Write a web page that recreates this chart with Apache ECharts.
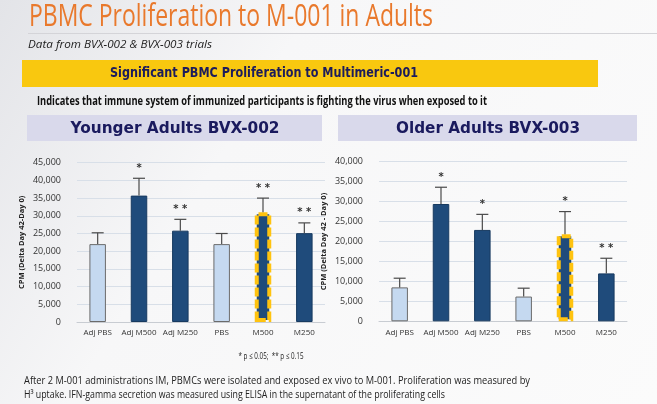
<!DOCTYPE html>
<html>
<head>
<meta charset="utf-8">
<script src="https://cdn.jsdelivr.net/npm/echarts@6/dist/echarts.min.js"></script>
<style>
html,body{margin:0;padding:0;background:#fafafa;}
#chart{width:657px;height:404px;}
</style>
</head>
<body>
<div id="chart"></div>
<script>
// ---- data ----
var categories = ['Adj PBS', 'Adj M500', 'Adj M250', 'PBS', 'M500', 'M250'];
var youngMeans = [22000, 35700, 25800, 22000, 31000, 25100];
var youngErrors = [3200, 4900, 3200, 3000, 4000, 2900];
var youngStars = ['', '*', '**', '', '**', '**'];
var oldMeans = [8500, 29400, 22900, 6200, 21800, 12000];
var oldErrors = [2300, 4200, 3900, 2100, 5700, 3800];
var oldStars = ['', '*', '*', '', '*', '**'];
var youngTicks = [0, 5000, 10000, 15000, 20000, 25000, 30000, 35000, 40000, 45000];
var oldTicks = [0, 5000, 10000, 15000, 20000, 25000, 30000, 35000, 40000];

// ---- helpers ----
var mctx = document.createElement('canvas').getContext('2d');
function fitScale(text, font, width) {
  mctx.font = font;
  var w = mctx.measureText(text).width;
  return w > 0 ? width / w : 1;
}
function txt(text, x, y, opt) {
  var font = (opt.style || 'normal') + ' ' + (opt.weight || 'normal') + ' ' + opt.size + 'px ' + opt.family;
  var sx = opt.width ? fitScale(text, font, opt.width) : 1;
  return {
    type: 'text', x: x, y: y, scaleX: sx, z: 10,
    style: {
      text: text, fill: opt.color, font: font,
      textAlign: opt.align || 'left', textVerticalAlign: 'middle'
    }
  };
}

var NAVY_BAR = '#1F4B7B';
var LIGHT_BAR = '#C5D9F0';
var HILITE = '#FFC30F';

function barData(means) {
  return means.map(function (v, i) {
    var name = categories[i];
    var isLight = name.indexOf('PBS') >= 0;
    var item = {
      value: v,
      itemStyle: {
        color: isLight ? LIGHT_BAR : NAVY_BAR,
        borderColor: isLight ? '#6b6b6b' : '#173a60',
        borderWidth: 1
      }
    };
    if (name === 'M500') {
      item.itemStyle.borderColor = HILITE;
      item.itemStyle.borderWidth = 4;
      item.itemStyle.borderType = [9, 3];
    }
    return item;
  });
}
function errData(means, errs, stars) {
  return means.map(function (v, i) { return [i, v, errs[i], stars[i]]; });
}
function renderErr(params, api) {
  var i = api.value(0), v = api.value(1), e = api.value(2);
  var star = errSets[params.seriesIndex][params.dataIndex][3];
  var p0 = api.coord([i, v]);
  var p1 = api.coord([i, v + e]);
  var children = [
    { type: 'line', shape: { x1: p0[0], y1: p0[1], x2: p1[0], y2: p1[1] }, style: { stroke: '#4a4a4a', lineWidth: 1.2 } },
    { type: 'line', shape: { x1: p1[0] - 6, y1: p1[1], x2: p1[0] + 6, y2: p1[1] }, style: { stroke: '#4a4a4a', lineWidth: 1.2 } }
  ];
  if (star) {
    children.push({ type: 'text', x: p1[0], y: p1[1] - 10,
      style: { text: star.split('').join(' '), fill: '#333', font: 'bold 10px "DejaVu Sans"', textAlign: 'center', textVerticalAlign: 'middle' } });
  }
  return { type: 'group', children: children };
}
var errSets = {};
errSets[2] = errData(youngMeans, youngErrors, youngStars);
errSets[3] = errData(oldMeans, oldErrors, oldStars);

function yAxis(gi, ticks, name) {
  return {
    type: 'value', gridIndex: gi, min: ticks[0], max: ticks[ticks.length - 1], interval: ticks[1] - ticks[0],
    name: name, nameLocation: 'middle', nameGap: 51, nameRotate: 90,
    nameTextStyle: { fontFamily: '"Open Sans"', fontWeight: 'bold', fontSize: 7.5, color: '#222' },
    axisLine: { show: false }, axisTick: { show: false },
    axisLabel: { margin: 16, fontFamily: '"Open Sans"', fontSize: 9, color: '#333',
      formatter: function (v) { return v.toLocaleString('en-US'); } },
    splitLine: { lineStyle: { color: '#d8dfe8', width: 1 } }
  };
}
function xAxis(gi) {
  return {
    type: 'category', gridIndex: gi, data: categories,
    axisLine: { lineStyle: { color: '#c8ccd2' } }, axisTick: { show: false },
    axisLabel: { margin: 7, fontFamily: '"Open Sans"', fontSize: 8, color: '#333', interval: 0 }
  };
}

var chart = echarts.init(document.getElementById('chart'), null, { renderer: 'canvas' });
var option = {
  animation: false,
  backgroundColor: {
    type: 'linear', x: 0, y: 0, x2: 1, y2: 1,
    colorStops: [{ offset: 0, color: '#e3e4e8' }, { offset: 0.35, color: '#f7f7f8' }, { offset: 1, color: '#fbfbfb' }]
  },
  grid: [
    { left: 77, top: 162.7, width: 248, height: 159.3 },
    { left: 379, top: 161.7, width: 248, height: 159.6 }
  ],
  xAxis: [xAxis(0), xAxis(1)],
  yAxis: [yAxis(0, youngTicks, 'CPM (Delta Day 42-Day 0)'), yAxis(1, oldTicks, 'CPM (Delta Day 42 - Day 0)')],
  series: [
    { type: 'bar', xAxisIndex: 0, yAxisIndex: 0, data: barData(youngMeans), barWidth: 16.5, z: 2 },
    { type: 'bar', xAxisIndex: 1, yAxisIndex: 1, data: barData(oldMeans), barWidth: 16.5, z: 2 },
    { type: 'custom', xAxisIndex: 0, yAxisIndex: 0, data: errSets[2], renderItem: renderErr, z: 5 },
    { type: 'custom', xAxisIndex: 1, yAxisIndex: 1, data: errSets[3], renderItem: renderErr, z: 5 }
  ],
  graphic: [
    txt('PBMC Proliferation to M-001 in Adults', 29, 17, { size: 31, family: '"Open Sans"', color: '#E9792C', width: 404 }),
    { type: 'rect', shape: { x: 28, y: 33, width: 629, height: 1 }, style: { fill: '#d4d4d8' }, z: 9 },
    txt('Data from BVX-002 & BVX-003 trials', 28, 45, { size: 10, style: 'italic', family: '"Open Sans"', color: '#222', width: 184 }),
    { type: 'rect', shape: { x: 22, y: 60, width: 576, height: 27 }, style: { fill: '#F9C80F' }, z: 9 },
    txt('Significant PBMC Proliferation to Multimeric-001', 264, 73.5, { size: 14, weight: 'bold', family: '"DejaVu Sans"', color: '#1c1c5c', width: 308, align: 'center' }),
    txt('Indicates that immune system of immunized participants is fighting the virus when exposed to it', 262, 101, { size: 12.5, weight: 'bold', family: '"Open Sans"', color: '#111', width: 450, align: 'center' }),
    { type: 'rect', shape: { x: 27, y: 115, width: 295, height: 26 }, style: { fill: '#D9D9EB' }, z: 9 },
    { type: 'rect', shape: { x: 338, y: 115, width: 299, height: 26 }, style: { fill: '#D9D9EB' }, z: 9 },
    txt('Younger Adults BVX-002', 175, 129, { size: 16, weight: 'bold', family: '"DejaVu Sans"', color: '#1a1a5e', width: 209, align: 'center' }),
    txt('Older Adults BVX-003', 488, 129, { size: 16, weight: 'bold', family: '"DejaVu Sans"', color: '#1a1a5e', width: 184, align: 'center' }),
    txt('* p \u2264 0.05;  ** p \u2264 0.15', 271, 356, { size: 9, family: '"Open Sans"', color: '#222', width: 65, align: 'center' }),
    txt('After 2 M-001 administrations IM, PBMCs were isolated and exposed ex vivo to M-001. Proliferation was measured by', 24, 380.5, { size: 11, family: '"Open Sans"', color: '#222', width: 506 }),
    txt('H\u00B3 uptake. IFN-gamma secretion was measured using ELISA in the supernatant of the proliferating cells', 24, 394.5, { size: 11, family: '"Open Sans"', color: '#222', width: 421 })
  ]
};
chart.setOption(option);
</script>
</body>
</html>
